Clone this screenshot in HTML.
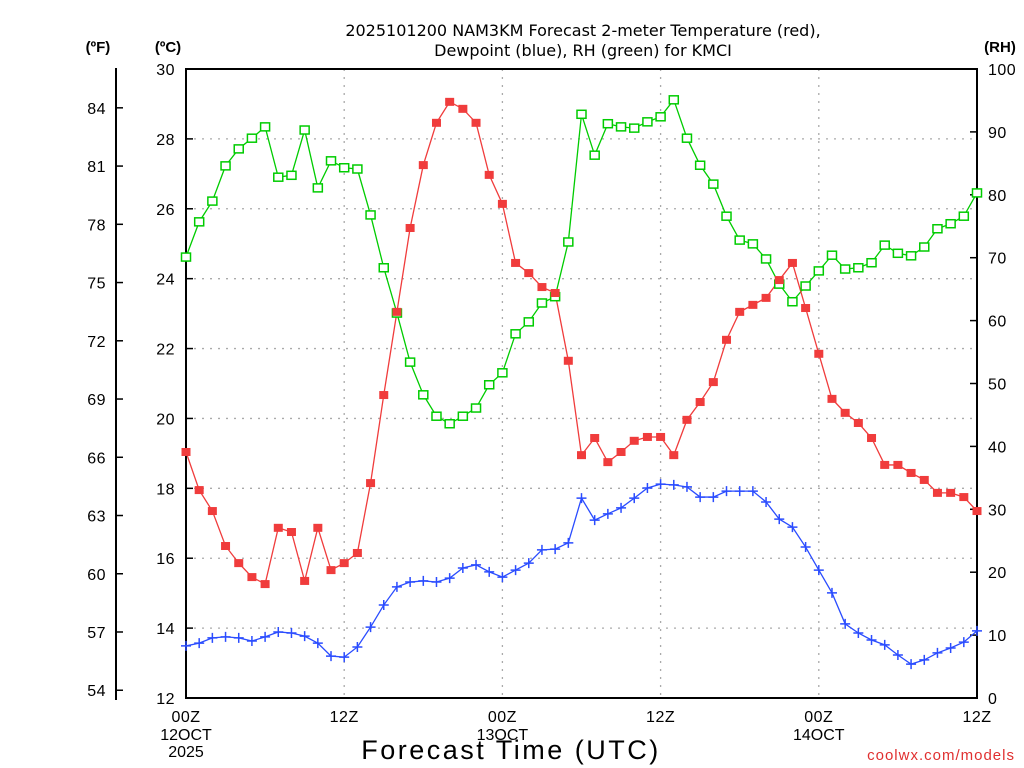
<!DOCTYPE html>
<html><head><meta charset="utf-8">
<style>
html,body{margin:0;padding:0;background:#fff;}
svg{display:block;font-family:"Liberation Sans",sans-serif;}
</style></head>
<body>
<svg id="chart" width="1024" height="768" viewBox="0 0 1024 768">
<text x="583" y="36" font-size="16" text-anchor="middle" font-family="DejaVu Sans, sans-serif">2025101200 NAM3KM Forecast 2-meter Temperature (red),</text>
<text x="583" y="56" font-size="16" text-anchor="middle" font-family="DejaVu Sans, sans-serif">Dewpoint (blue), RH (green) for KMCI</text>
<text x="98" y="52" font-size="15" font-weight="bold" text-anchor="middle">(ºF)</text>
<text x="168" y="52" font-size="15" font-weight="bold" text-anchor="middle">(ºC)</text>
<text x="1000" y="52" font-size="15" font-weight="bold" text-anchor="middle">(RH)</text>
<text x="511" y="759" font-size="27" text-anchor="middle" letter-spacing="2.5">Forecast Time (UTC)</text>
<text x="1015" y="760" font-size="15" fill="#e03030" text-anchor="end" letter-spacing="1">coolwx.com/models</text>
<g id="grid"></g><g id="axes"></g><g id="series"></g>
</svg>
<script>
const hours = Array.from({length:61},(_, i)=>i);
const tempC = [19.04,17.95,17.35,16.35,15.86,15.46,15.26,16.87,16.75,15.35,16.87,15.66,15.86,16.15,18.15,20.67,23.05,25.45,27.25,28.46,29.06,28.86,28.46,26.97,26.14,24.45,24.16,23.76,23.59,21.65,18.95,19.44,18.75,19.04,19.36,19.47,19.47,18.95,19.96,20.47,21.04,22.25,23.05,23.25,23.45,23.96,24.45,23.16,21.85,20.56,20.16,19.87,19.44,18.67,18.67,18.44,18.24,17.87,17.87,17.75,17.35];
const dewC = [13.49,13.57,13.72,13.75,13.72,13.63,13.75,13.89,13.86,13.77,13.57,13.20,13.17,13.46,14.03,14.66,15.18,15.32,15.35,15.32,15.43,15.72,15.81,15.61,15.46,15.66,15.86,16.24,16.26,16.44,17.72,17.09,17.27,17.44,17.72,18.01,18.12,18.10,18.04,17.75,17.75,17.92,17.92,17.92,17.61,17.12,16.89,16.32,15.66,15.01,14.12,13.86,13.66,13.52,13.23,12.97,13.09,13.29,13.43,13.60,13.92];
const rh = [70.1,75.7,79.0,84.6,87.3,89.0,90.8,82.8,83.1,90.3,81.1,85.4,84.3,84.1,76.8,68.4,61.2,53.4,48.2,44.8,43.6,44.8,46.1,49.8,51.7,57.9,59.8,62.8,63.8,72.5,92.8,86.3,91.3,90.8,90.6,91.6,92.4,95.1,89.0,84.7,81.7,76.6,72.8,72.2,69.8,65.8,63.0,65.5,67.9,70.4,68.2,68.4,69.2,72.0,70.7,70.3,71.7,74.6,75.4,76.6,80.3];
const cTicks = [12,14,16,18,20,22,24,26,28,30];
const fTicks = [54,57,60,63,66,69,72,75,78,81,84];
const rhTicks = [0,10,20,30,40,50,60,70,80,90,100];
const xTickHours = [0,12,24,36,48,60];
const xTickLabels = ["00Z","12Z","00Z","12Z","00Z","12Z"];
const xDayLabels = ["12OCT","","13OCT","","14OCT",""];

const X0=186,X1=977,Y0=698,Y1=69;
const xs=h=>X0+(X1-X0)*h/60;
const yC=c=>Y0-(Y0-Y1)*(c-12)/18;
const yRH=r=>Y0-(Y0-Y1)*r/100;
const NS="http://www.w3.org/2000/svg";
function mk(tag,attrs,parent,txt){const e=document.createElementNS(NS,tag);for(const k in attrs)e.setAttribute(k,attrs[k]);if(txt!==undefined)e.textContent=txt;parent.appendChild(e);return e;}
const grid=document.getElementById('grid'),axes=document.getElementById('axes'),ser=document.getElementById('series');

cTicks.forEach(c=>{
  if(c>12&&c<30){const l=mk('line',{x1:X0,x2:X1,y1:yC(c),y2:yC(c),stroke:'#aaa','stroke-width':1.3,'stroke-dasharray':'2,6'},grid);
  
  }
  const tk=mk('line',{x1:X0,x2:X0+7,y1:yC(c),y2:yC(c),stroke:'#000','stroke-width':1.5},axes);
  
  
  const t=mk('text',{x:175,y:yC(c)+6,'font-size':16,'text-anchor':'end','letter-spacing':0.5},axes,String(c));
  
  
});
xTickHours.forEach((h,i)=>{
  if(h>0&&h<60){const l=mk('line',{x1:xs(h),x2:xs(h),y1:Y1,y2:Y0,stroke:'#aaa','stroke-width':1.3,'stroke-dasharray':'2,6'},grid);
  
  }
  const t=mk('text',{x:xs(h),y:722,'font-size':16,'text-anchor':'middle','letter-spacing':0.5},axes,xTickLabels[i]);
  
  
  if(xDayLabels[i]){const d=mk('text',{x:xs(h),y:740,'font-size':16,'text-anchor':'middle'},axes,xDayLabels[i]);
  
  }
});
const yr=mk('text',{x:xs(0),y:757,'font-size':16,'text-anchor':'middle'},axes,'2025');


fTicks.forEach(f=>{
  const y=yC((f-32)*5/9);
  const tk=mk('line',{x1:116,x2:123,y1:y,y2:y,stroke:'#000','stroke-width':1.5},axes);
  
  
  const t=mk('text',{x:106,y:y+6,'font-size':16,'text-anchor':'end','letter-spacing':0.5},axes,String(f));
  
  
});
rhTicks.forEach(r=>{
  const tk=mk('line',{x1:X1-7,x2:X1,y1:yRH(r),y2:yRH(r),stroke:'#000','stroke-width':1.5},axes);
  
  
  const t=mk('text',{x:988,y:yRH(r)+6,'font-size':16,'text-anchor':'start','letter-spacing':0.5},axes,String(r));
  
  
});
const fr=mk('rect',{x:X0,y:Y1,width:X1-X0,height:Y0-Y1,fill:'none',stroke:'#000','stroke-width':2},axes);


const fa=mk('line',{x1:116,x2:116,y1:68,y2:700,stroke:'#000','stroke-width':2},axes);



function line(vals,yf,color,name){
  const p=mk('polyline',{points:vals.map((v,i)=>xs(hours[i])+','+yf(v)).join(' '),fill:'none',stroke:color,'stroke-width':1.3},ser);
  
  
}
line(rh,yRH,'#00cc00','rh-line');
line(tempC,yC,'#f03c3c','temperature-line');
line(dewC,yC,'#2a4cff','dewpoint-line');
rh.forEach((v,i)=>{const m=mk('rect',{x:xs(hours[i])-4.5,y:yRH(v)-4,width:9,height:8,fill:'#fff',stroke:'#00cc00','stroke-width':1.5},ser);
  
  });
tempC.forEach((v,i)=>{const m=mk('rect',{x:xs(hours[i])-4.5,y:yC(v)-4,width:9,height:8,fill:'#f03c3c'},ser);
  
  });
dewC.forEach((v,i)=>{const x=xs(hours[i]),y=yC(v);
  const m=mk('path',{d:`M${x-5},${y}H${x+5}M${x},${y-5}V${y+5}`,stroke:'#2a4cff','stroke-width':1.5,fill:'none'},ser);
  
  });
</script>
</body></html>
